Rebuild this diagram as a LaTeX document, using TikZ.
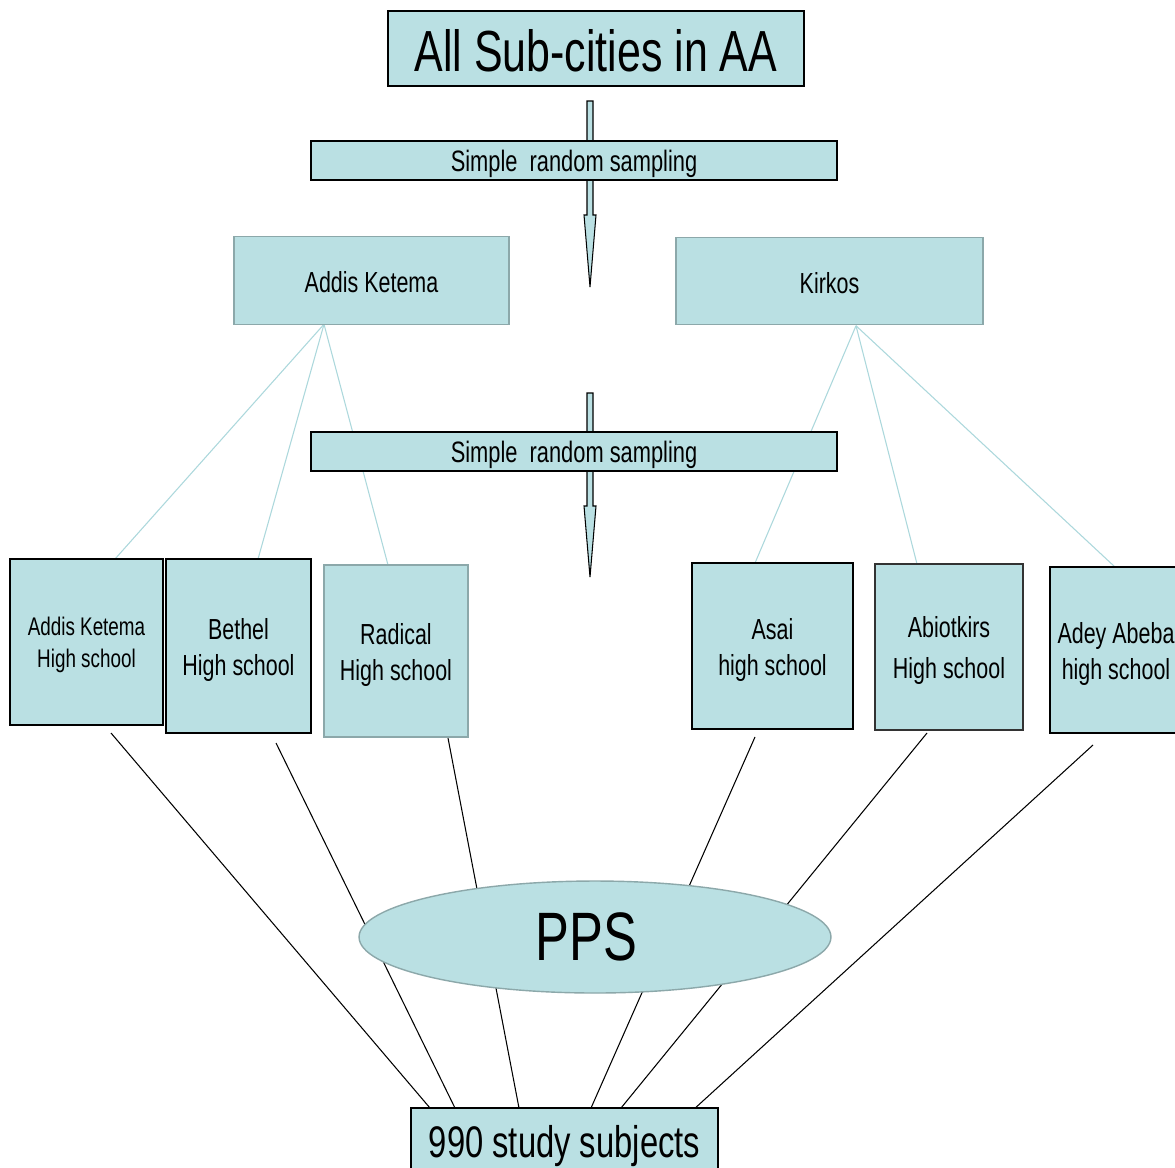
\documentclass[tikz,border=0pt]{standalone}
\usepackage{fontspec}
\setmainfont[FakeStretch=0.74]{Liberation Sans}
\usetikzlibrary{shapes.geometric,calc,backgrounds}

\definecolor{boxfill}{RGB}{186,224,227}
\definecolor{boxedge}{RGB}{140,168,170}
\definecolor{tieblue}{RGB}{172,216,220}

\pgfdeclarelayer{paper}
\pgfsetlayers{paper,background,main}

\newcommand\lift[1][16pt]{\rule{0pt}{#1}}

\tikzset{
  box/.style={draw=black, line width=0.8pt, fill=boxfill, inner sep=0pt, outer sep=0pt, align=center},
  greybox/.style={box, draw=boxedge},
  srsbox/.style={box, minimum width=10.52cm, minimum height=0.78cm, text depth=0pt, font=\fontsize{16.8}{19}\selectfont},
  citybox/.style={greybox, minimum height=1.75cm, text height=14.2pt, font=\fontsize{16.5}{20}\selectfont},
  school/.style={box, minimum height=3.32cm, font=\fontsize{16.5}{20.5}\selectfont},
  tie/.style={draw=tieblue, line width=0.6pt},
  feed/.style={draw=black, line width=0.6pt},
  srsarrow/.style={fill=boxfill, draw=black, line width=0.6pt, line join=miter}
}

\begin{document}
\begin{tikzpicture}[x=0.02cm,y=-0.02cm]
\useasboundingbox (0,0) rectangle (1175,1167);
\begin{pgfonlayer}{paper}
\fill[white] (0,0) rectangle (1175,1167);
\end{pgfonlayer}
\clip (0,0) rectangle (1175,1167);

% top levels
\node[box, minimum width=8.32cm, minimum height=1.5cm, text height=26pt, font=\fontsize{33}{38}\selectfont] (all) at (596,48.5) {All Sub-cities in AA};
\node[srsbox] (srs1) at (574,160.5) {Simple~ random sampling};
\node[citybox, minimum width=5.5cm] (addis) at (371.5,280.5) {Addis Ketema};
\node[citybox, minimum width=6.14cm] (kirkos) at (829.5,281) {Kirkos};
\node[srsbox] (srs2) at (574,451.5) {Simple~ random sampling};

% schools
\node[school, minimum width=3.06cm, font=\fontsize{14.5}{18}\selectfont] (akhs) at (86.5,642) {\lift[14pt]Addis Ketema\\High school};
\node[school, minimum width=2.9cm, minimum height=3.48cm] (bethel) at (238.5,646) {\lift Bethel\\High school};
\node[school, draw=boxedge, minimum width=2.88cm, minimum height=3.44cm] (radical) at (396,651) {\lift Radical\\High school};
\node[school, minimum width=3.22cm] (asai) at (772.5,646) {\lift[17pt]Asai\\high school};
\node[school, draw=black!80, minimum width=2.96cm, font=\fontsize{16.5}{23}\selectfont] (abiot) at (949,647) {\lift Abiotkirs\\High school};
\node[school, minimum width=2.64cm] (adey) at (1116,650) {\lift Adey Abeba\\high school};

% sampling and total
\node[ellipse, fill=boxfill, draw=boxedge, line width=0.8pt, inner sep=0pt, minimum width=9.44cm, minimum height=2.24cm, font=\fontsize{39}{44}\selectfont] (pps) at (595,937) {PPS\hspace*{10pt}};
\node[box, minimum width=6.14cm, minimum height=1.44cm, text depth=3.2pt, font=\fontsize{25.2}{30}\selectfont] (subj) at (564.5,1144) {990 study subjects};

\begin{pgfonlayer}{background}
\filldraw[srsarrow] (587,101) -- (593,101) -- (593,215) -- (596,215) -- (590,287) -- (584,215) -- (587,215) -- cycle;
\filldraw[srsarrow] (587,393) -- (593,393) -- (593,506) -- (596,506) -- (590,577) -- (584,506) -- (587,506) -- cycle;

\draw[tie] ($(addis.south)+(-47.5,0)$) -- ($(akhs.north)+(28.5,0)$);
\draw[tie] ($(addis.south)+(-47.5,0)$) -- ($(bethel.north)+(19.5,0)$);
\draw[tie] ($(addis.south)+(-47.5,0)$) -- ($(radical.north)+(-8,0)$);
\draw[tie] ($(kirkos.south)+(26.5,1)$) -- ($(asai.north)+(-17.5,0)$);
\draw[tie] ($(kirkos.south)+(26.5,1)$) -- ($(abiot.north)+(-32,0)$);
\draw[tie] ($(kirkos.south)+(26.5,1)$) -- ($(adey.north)+(-1,0)$);

\draw[feed] ($(akhs.south)+(24.5,8)$) -- ($(subj.north)+(-134.5,0)$);
\draw[feed] ($(bethel.south)+(37.5,10)$) -- ($(subj.north)+(-109.5,0)$);
\draw[feed] ($(radical.south)+(52,1)$) -- ($(subj.north)+(-45.5,0)$);
\draw[feed] ($(asai.south)+(-17.5,8)$) -- ($(subj.north)+(26.5,0)$);
\draw[feed] ($(abiot.south)+(-22,3)$) -- ($(subj.north)+(56.5,0)$);
\draw[feed] ($(adey.south)+(-23,12)$) -- ($(subj.north)+(128.5,2)$);
\end{pgfonlayer}
\end{tikzpicture}
\end{document}
